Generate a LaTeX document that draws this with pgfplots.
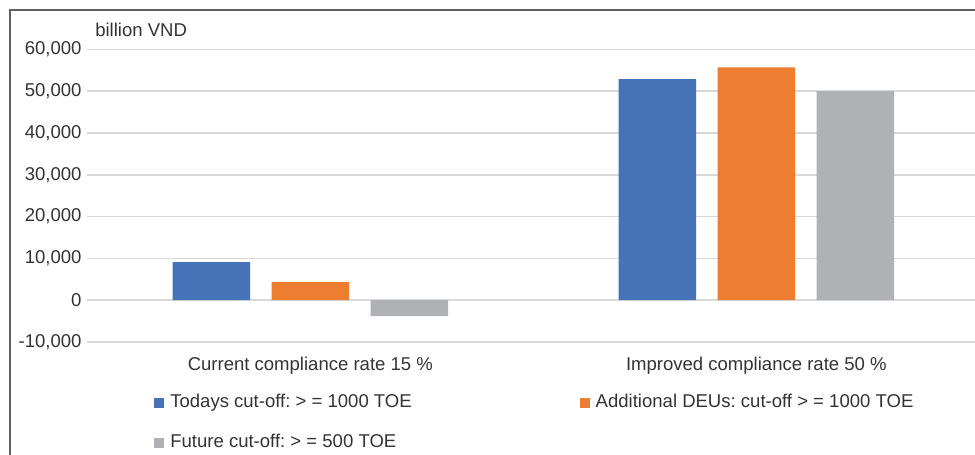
\documentclass[border=0pt]{standalone}
\usepackage{pgfplots}
\pgfplotsset{compat=1.18}
\usepackage{fontspec}
\setmainfont{Liberation Sans}
\frenchspacing
\definecolor{cblue}{HTML}{4672B8}
\definecolor{corange}{HTML}{ED7D31}
\definecolor{cgray}{HTML}{B0B1B4}
\definecolor{gridgray}{HTML}{D9D9D9}
\definecolor{txt}{HTML}{333333}
\definecolor{frame}{HTML}{5F5F5F}
\newcommand\fs{\fontsize{13.9pt}{16pt}\selectfont}
\begin{document}
\begin{tikzpicture}
% page = 975 x 454 px at 0.75pt per px
\path[use as bounding box] (0pt,0pt) rectangle (731.25pt,-340.5pt);
% chart frame (cropped at right and bottom)
\draw[frame, line width=1.1pt] (7.5pt,-360pt) -- (7.5pt,-7.5pt) -- (760pt,-7.5pt);
\begin{axis}[
    at={(65.5pt,-256.5pt)}, anchor=south west,
    scale only axis,
    width=669pt, height=219.5pt,
    xmin=-0.5, xmax=1.5,
    ymin=-10000, ymax=60000,
    scaled y ticks=false,
    ybar=16.1pt, bar width=58.1pt,
    axis line style={draw=none},
    major tick length=0pt,
    ymajorgrids=true,
    grid style={draw=gridgray, line width=1.1pt},
    ytick={-10000,0,10000,20000,30000,40000,50000,60000},
    yticklabels={{-10,000},{0},{10,000},{20,000},{30,000},{40,000},{50,000},{60,000}},
    xtick={0,1},
    xticklabels={Current compliance rate 15 \%, Improved compliance rate 50 \%},
    yticklabel style={font=\fs, text=txt, anchor=east, inner sep=0pt, xshift=-4.2pt},
    xticklabel style={font=\fs, text=txt, anchor=base, inner sep=0pt, yshift=-21.4pt},
    legend columns=2,
    legend image code/.code={\fill[#1] (0pt,-3.75pt) rectangle (7.5pt,3.75pt);},
    legend style={
        at={(0.0748,-0.1787)}, anchor=north west,
        draw=none, fill=none, inner sep=0pt,
        row sep=17pt,
        /tikz/every odd column/.append style={column sep=4.5pt},
        /tikz/every even column/.append style={column sep=126pt},
        nodes={inner sep=0pt, text height=10pt, text depth=3pt, font=\fs, text=txt},
    },
    legend cell align=left,
]
% Todays cut-off >= 1000 TOE
\addplot[fill=cblue, draw=none] coordinates {(0,9100) (1,52900)};
\addlegendentry{Todays cut-off: > = 1000 TOE}
% Additional DEUs
\addplot[fill=corange, draw=none] coordinates {(0,4300) (1,55700)};
\addlegendentry{Additional DEUs: cut-off > = 1000 TOE}
% Future cut-off >= 500 TOE
\addplot[fill=cgray, draw=none] coordinates {(0,-3800) (1,50000)};
\addlegendentry{Future cut-off: > = 500 TOE}
\end{axis}
\node[anchor=base west, inner sep=0pt, font=\fs, text=txt] at (71.25pt,-27pt) {billion VND};
\end{tikzpicture}
\end{document}
